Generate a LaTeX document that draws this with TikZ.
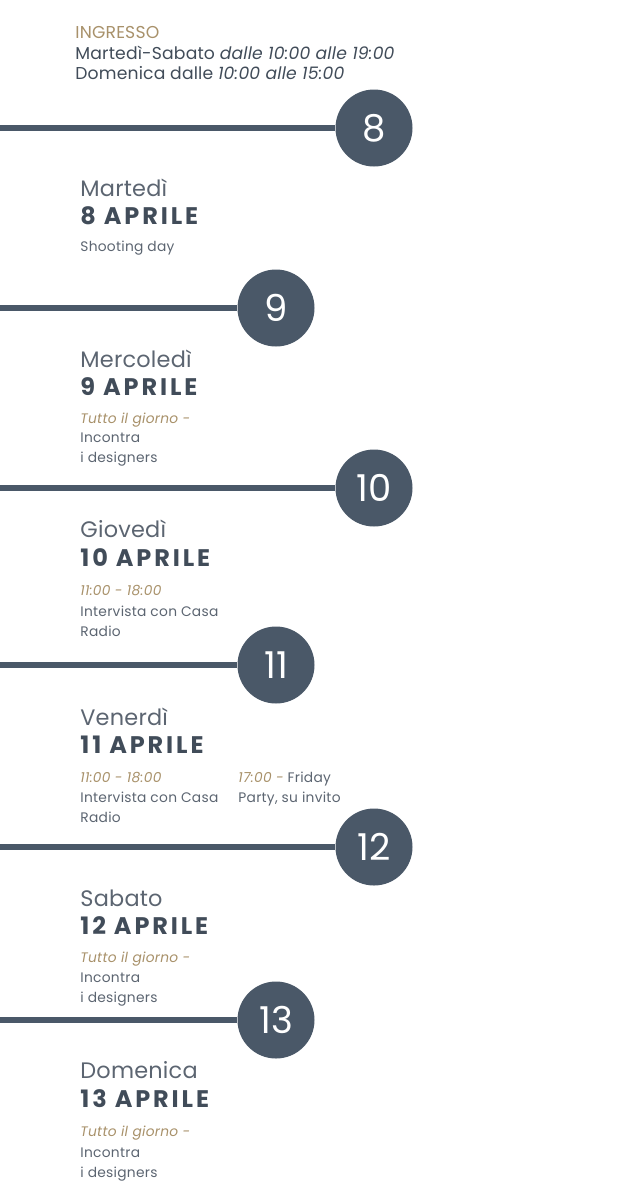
\documentclass[tikz,border=0pt]{standalone}
\usepackage{fontspec}
\setmainfont{Poppins}
\definecolor{slate}{HTML}{4A5868}
\definecolor{gold}{HTML}{A8916A}
\definecolor{ink}{HTML}{414C59}
\definecolor{soft}{HTML}{5C6571}
\begin{document}
\begin{tikzpicture}[x=0.5pt,y=-0.5pt,
    bar/.style={line width=2.6pt,slate},
    daynum/.style={circle,fill=slate,inner sep=0pt,minimum size=38.5pt,text=white,font=\fontsize{18.5}{20}\selectfont},
    txt/.style={anchor=base west,inner sep=0pt},
    wday/.style={txt,text=soft,font=\fontsize{11.2}{13}\selectfont\addfontfeatures{LetterSpace=1}},
    wdate/.style={txt,text=ink,font=\fontsize{12}{13}\bfseries\addfontfeatures{LetterSpace=12}},
    note/.style={txt,text=soft,font=\fontsize{6.9}{8}\selectfont\addfontfeatures{LetterSpace=2}},
    when/.style={txt,text=gold,font=\fontsize{6.9}{8}\itshape\addfontfeatures{LetterSpace=2}},
    head/.style={txt,text=ink,font=\fontsize{8.6}{10}\selectfont\addfontfeatures{LetterSpace=1}}]
    \useasboundingbox (0,0) rectangle (630,1200);

    %INGRESSO
    \node[head,text=gold] (ing) at (75,38) {INGRESSO};
    \node[head] (ing1) at (75,59) {Martedì-Sabato \textit{dalle 10:00 alle 19:00}};
    \node[head] (ing2) at (75,79) {Domenica dalle \textit{10:00 alle 15:00}};

    %cerchi
    \node[daynum] (c8) at (374,128) {8};
    \node[daynum] (c9) at (276,308) {9};
    \node[daynum] (c10) at (374,488) {10};
    \node[daynum] (c11) at (276,665) {11};
    \node[daynum] (c12) at (374,847) {12};
    \node[daynum] (c13) at (276,1020) {13};

    %linee
    \coordinate (l8) at (0,128);
    \coordinate (l9) at (0,308);
    \coordinate (l10) at (0,488);
    \coordinate (l11) at (0,665);
    \coordinate (l12) at (0,847);
    \coordinate (l13) at (0,1020);
    \draw[bar] (l8) -- (c8);
    \draw[bar] (l9) -- (c9);
    \draw[bar] (l10) -- (c10);
    \draw[bar] (l11) -- (c11);
    \draw[bar] (l12) -- (c12);
    \draw[bar] (l13) -- (c13);

    %8
    \node[wday] (d8) at (80,196) {Martedì};
    \node[wdate] (a8) at (80,224) {8 APRILE};
    \node[note] (n8) at (80,251) {Shooting day};

    %9
    \node[wday] (d9) at (80,367) {Mercoledì};
    \node[wdate] (a9) at (80,395) {9 APRILE};
    \node[when] (t9) at (80,423) {Tutto il giorno -};
    \node[note] (n9) at (80,442) {Incontra};
    \node[note] (m9) at (80,462) {i designers};

    %10
    \node[wday] (d10) at (80,537) {Giovedì};
    \node[wdate] (a10) at (80,566) {10 APRILE};
    \node[when] (t10) at (80,595) {11:00 - 18:00};
    \node[note] (n10) at (80,616) {Intervista con Casa};
    \node[note] (m10) at (80,636) {Radio};

    %11
    \node[wday] (d11) at (80,725) {Venerdì};
    \node[wdate] (a11) at (80,753) {11 APRILE};
    \node[when] (t11) at (80,782) {11:00 - 18:00};
    \node[note] (n11) at (80,802) {Intervista con Casa};
    \node[note] (m11) at (80,822) {Radio};
    \node[note] (p11) at (238,782) {\textcolor{gold}{\itshape 17:00 -} Friday};
    \node[note] (q11) at (238,802) {Party, su invito};

    %12
    \node[wday] (d12) at (80,906) {Sabato};
    \node[wdate] (a12) at (80,934) {12 APRILE};
    \node[when] (t12) at (80,962) {Tutto il giorno -};
    \node[note] (n12) at (80,982) {Incontra};
    \node[note] (m12) at (80,1002) {i designers};

    %13
    \node[wday] (d13) at (80,1078) {Domenica};
    \node[wdate] (a13) at (80,1107) {13 APRILE};
    \node[when] (t13) at (80,1136) {Tutto il giorno -};
    \node[note] (n13) at (80,1157) {Incontra};
    \node[note] (m13) at (80,1177) {i designers};

\end{tikzpicture}
\end{document}
